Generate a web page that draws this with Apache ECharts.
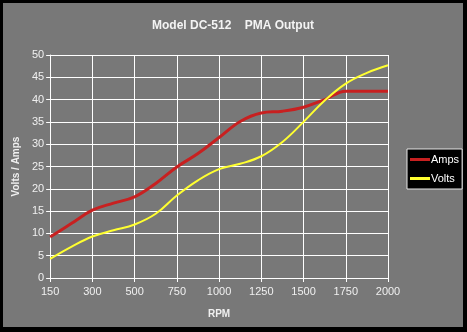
<!DOCTYPE html>
<html><head><meta charset="utf-8">
<script src="https://cdn.jsdelivr.net/npm/echarts@6/dist/echarts.min.js"></script>
<style>
html,body{margin:0;padding:0;background:#000;width:467px;height:332px;overflow:hidden;}
#c{position:absolute;left:3px;top:3px;width:460px;height:324px;background:#787878;}
</style></head><body>
<div id="c"></div>
<script>
const rpm = ['150','225','300','400','500','625','750','875','1000','1125','1250','1375','1500','1625','1750','1875','2000'];
const amps = [9.2,12.2,15.2,16.8,18.2,21.2,24.9,27.9,31.5,35.1,37.0,37.4,38.3,40.0,41.9,41.9,41.9];
const volts = [4.3,7.0,9.3,10.7,12.0,14.4,18.5,21.9,24.4,25.6,27.3,30.5,35.0,39.8,43.6,46.0,47.7];
const yTicks = {min:0, max:50, interval:5};
const font = 'Liberation Sans, Arial, sans-serif';
const chart = echarts.init(document.getElementById('c'));
chart.setOption({
  backgroundColor:'#787878',
  animation:false,
  title:{text:'Model DC-512    PMA Output', left:'center', top:12,
    textStyle:{color:'#f4f4f4', fontSize:12, fontWeight:'bold', fontFamily:font}},
  grid:{left:42, top:52, right:75, bottom:49, show:true, backgroundColor:'#787878', borderWidth:0},
  legend:{orient:'vertical', left:404, top:146, backgroundColor:'#000', borderColor:'#e8e8e8', borderWidth:1,
    padding:[5,3,5,3], itemGap:8, itemWidth:20, itemHeight:3, icon:'rect',
    textStyle:{color:'#fff', fontSize:11, fontFamily:font, padding:[0,0,0,-4]},
    data:['Amps','Volts']},
  xAxis:{type:'category', data:rpm, boundaryGap:false, name:'RPM', nameLocation:'middle', nameGap:31,
    nameTextStyle:{color:'#f0f0f0', fontSize:10, fontWeight:'bold', fontFamily:font},
    axisLine:{lineStyle:{color:'#fff', width:1}},
    axisTick:{show:true, interval:1, length:4, lineStyle:{color:'#fff'}},
    axisLabel:{interval:1, color:'#f0f0f0', fontSize:11, fontFamily:font, margin:8},
    splitLine:{show:true, interval:1, lineStyle:{color:'#fff', width:1}}},
  yAxis:{type:'value', min:yTicks.min, max:yTicks.max, interval:yTicks.interval, name:'Volts / Amps',
    nameLocation:'middle', nameGap:24, nameRotate:90,
    nameTextStyle:{color:'#f0f0f0', fontSize:10, fontWeight:'bold', fontFamily:font},
    axisLine:{show:true, lineStyle:{color:'#fff', width:1}},
    axisTick:{show:true, length:4, lineStyle:{color:'#fff'}},
    axisLabel:{color:'#f0f0f0', fontSize:11, fontFamily:font, margin:6},
    splitLine:{show:true, lineStyle:{color:'#fff', width:1}}},
  series:[
    {name:'Amps', type:'line', data:amps, smooth:0.4, showSymbol:false, symbol:'none',
      lineStyle:{color:'#c82020', width:3}, itemStyle:{color:'#c82020'}},
    {name:'Volts', type:'line', data:volts, smooth:0.4, showSymbol:false, symbol:'none',
      lineStyle:{color:'#ffff30', width:2}, itemStyle:{color:'#ffff30'}}
  ]
});
</script></body></html>
